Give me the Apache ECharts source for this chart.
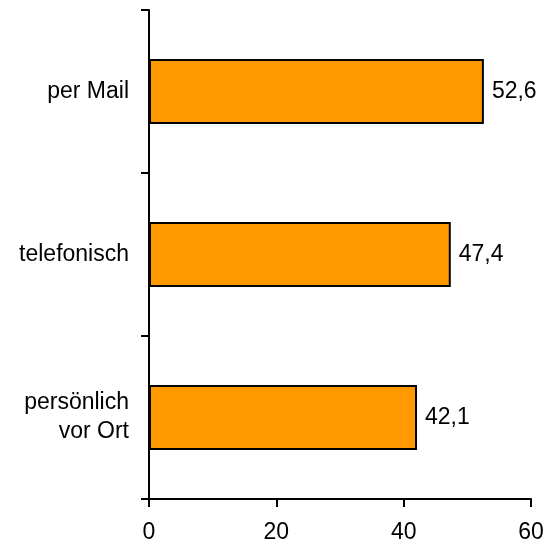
<!DOCTYPE html>
<html><head><meta charset="utf-8">
<script src="https://cdn.jsdelivr.net/npm/echarts@6/dist/echarts.min.js"></script>
<style>html,body{margin:0;padding:0;background:#fff}#c{width:549px;height:544px}</style>
</head><body><div id="c"></div>
<script>
const categories = ['per Mail', 'telefonisch', 'persönlich\nvor Ort'];
const values = [52.6, 47.4, 42.1];
const xTicks = [0, 20, 40, 60];

const FONT = 'Liberation Sans, Arial, sans-serif';
const chart = echarts.init(document.getElementById('c'), null, {renderer: 'canvas'});
chart.setOption({
  animation: false,
  backgroundColor: '#ffffff',
  grid: {left: 149, right: 18, top: 10, bottom: 44, containLabel: false},
  xAxis: {
    type: 'value', min: xTicks[0], max: xTicks[xTicks.length - 1], interval: 20,
    axisLine: {show: true, lineStyle: {color: '#000', width: 2}},
    axisTick: {show: true, length: 8, lineStyle: {color: '#000', width: 2}},
    axisLabel: {color: '#000', fontSize: 23, fontFamily: FONT, margin: 22},
    splitLine: {show: false}
  },
  yAxis: {
    type: 'category', data: categories, inverse: true,
    axisLine: {show: true, lineStyle: {color: '#000', width: 2}},
    axisTick: {show: true, length: 8, lineStyle: {color: '#000', width: 2}},
    axisLabel: {color: '#000', fontSize: 23, fontFamily: FONT, margin: 20, lineHeight: 29, align: 'right'},
    splitLine: {show: false}
  },
  series: [{
    type: 'bar', data: values, barWidth: '40%',
    itemStyle: {color: '#FF9900', borderColor: '#000', borderWidth: 2},
    label: {show: true, position: 'right', distance: 8, color: '#000', fontSize: 23,
      fontFamily: FONT,
      formatter: p => String(p.value).replace('.', ',')}
  }]
});
</script></body></html>
